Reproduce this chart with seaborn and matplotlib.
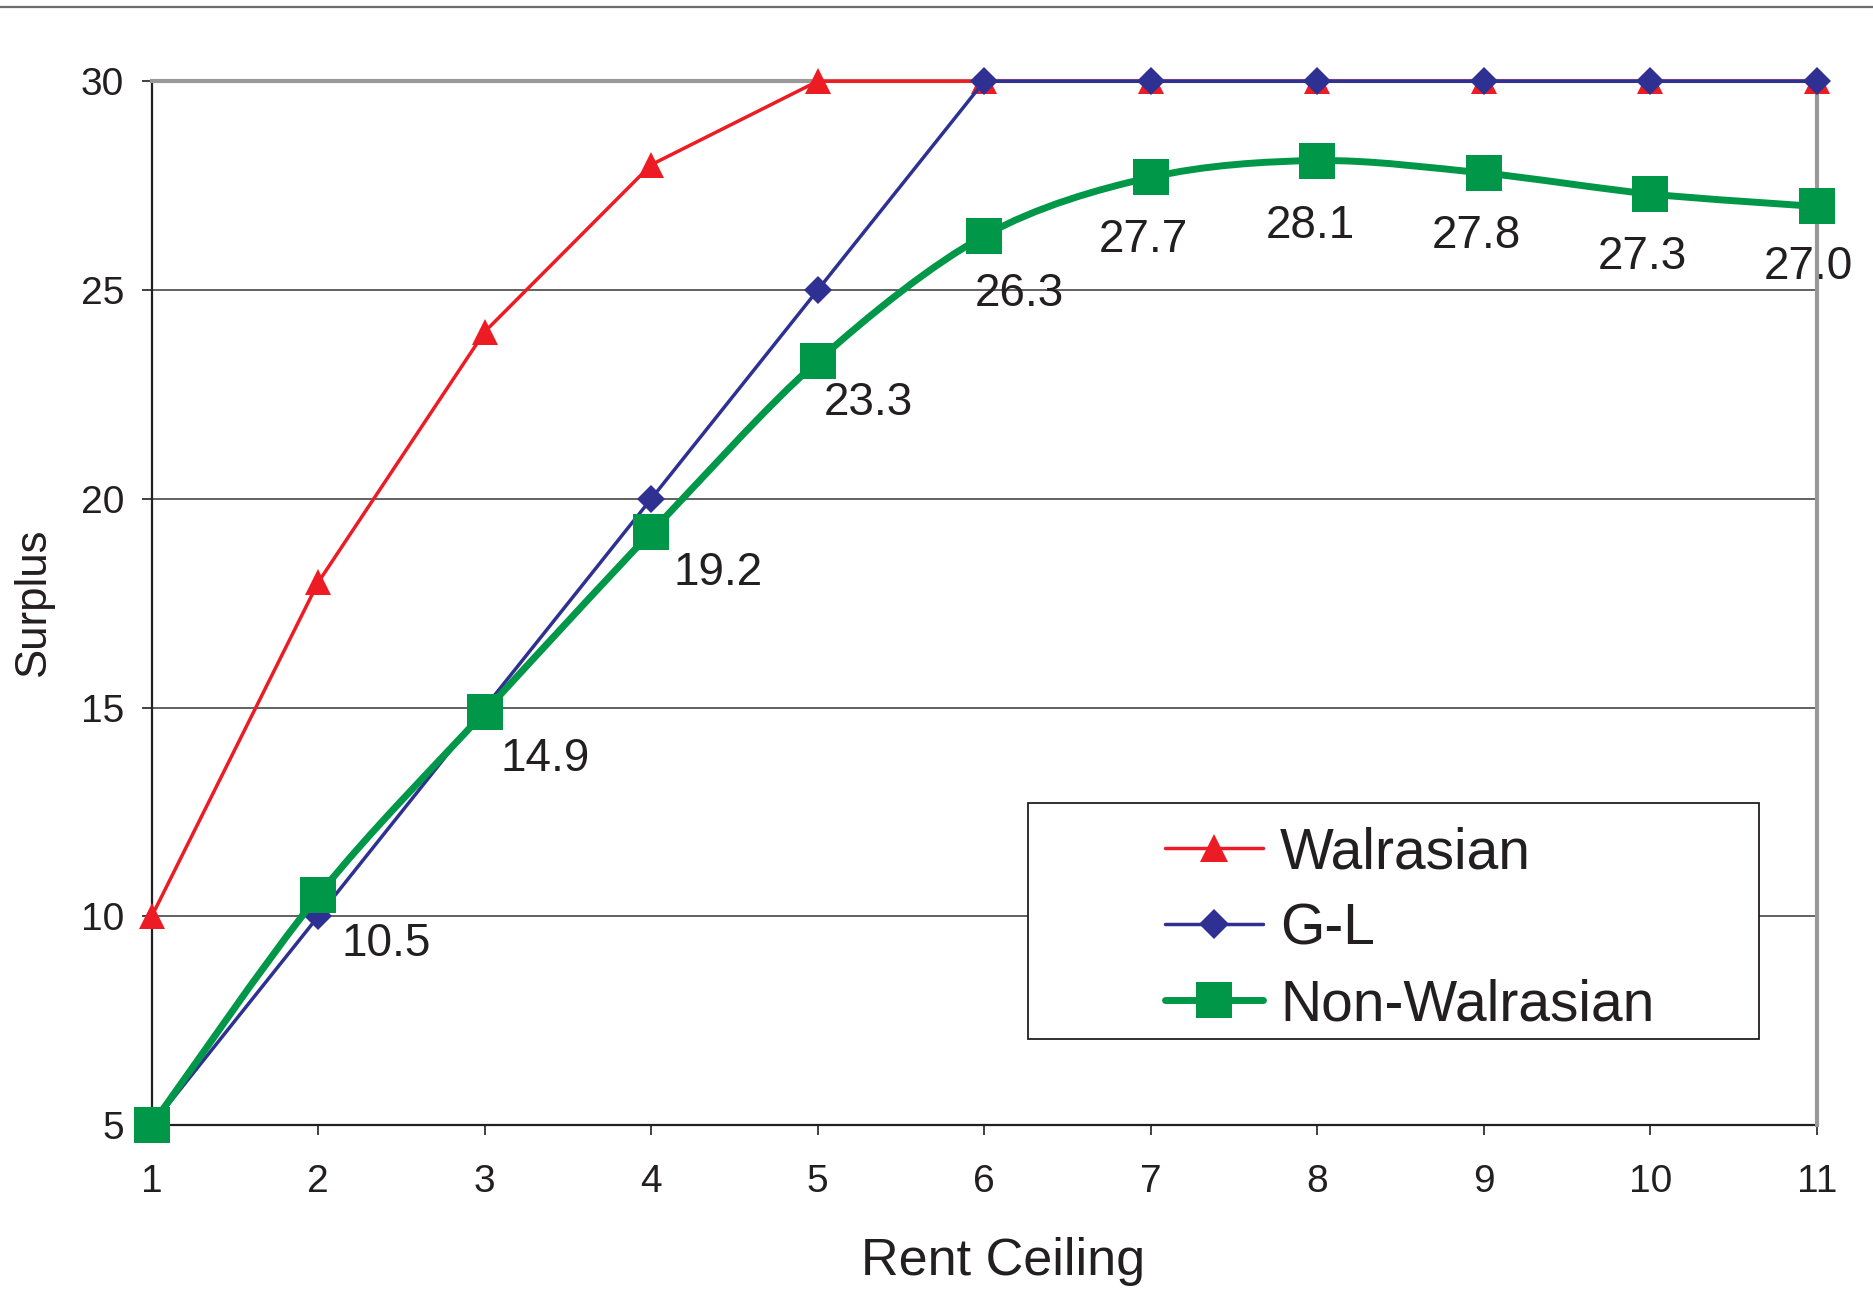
import numpy as np
import pandas as pd
import matplotlib
matplotlib.use("Agg")
import matplotlib.pyplot as plt
from matplotlib.path import Path
from matplotlib.patches import PathPatch, Rectangle
from matplotlib.lines import Line2D
import seaborn as sns

# Surplus under different rent ceilings
rent_ceiling = [1, 2, 3, 4, 5, 6, 7, 8, 9, 10, 11]
walrasian = [10, 18, 24, 28, 30, 30, 30, 30, 30, 30, 30]
gl = [5, 10, 15, 20, 25, 30, 30, 30, 30, 30, 30]
non_walrasian = [5.0, 10.5, 14.9, 19.2, 23.3, 26.3, 27.7, 28.1, 27.8, 27.3, 27.0]
y_ticks = [5, 10, 15, 20, 25, 30]
series_names = ["Walrasian", "G-L", "Non-Walrasian"]

RED = "#ED1C24"
BLUE = "#2E3192"
GREEN = "#009848"
INK = "#231f20"

sns.set_style("white")
plt.rcParams["font.family"] = ["Liberation Sans", "DejaVu Sans"]

fig = plt.figure(figsize=(18.73, 12.89), dpi=100)
ax = fig.add_axes([0.081, 0.1271, 0.889, 0.8099])

# thin rule across the top of the page
fig.add_artist(Line2D([0, 1], [1 - 7 / 1289] * 2, color="#6d6d6d", lw=1.6,
                      transform=fig.transFigure))

# horizontal gridlines
for yv in y_ticks[1:-1]:
    ax.axhline(yv, color="#555555", lw=1.3, zorder=1)

sns.lineplot(x=rent_ceiling, y=walrasian, ax=ax, color=RED, lw=2.5,
             marker="^", markersize=19, markeredgewidth=0, zorder=3, clip_on=False)
sns.lineplot(x=rent_ceiling, y=gl, ax=ax, color=BLUE, lw=2.5,
             marker="D", markersize=14, markeredgewidth=0, zorder=4, clip_on=False)
sns.lineplot(x=rent_ceiling, y=non_walrasian, ax=ax, color=GREEN, lw=0,
             marker="s", markersize=26, markeredgewidth=0, zorder=6, clip_on=False)

# smoothed connecting curve (cubic Bezier through the points)
pts = np.column_stack([rent_ceiling, non_walrasian]).astype(float)
t = 0.16
verts = [tuple(pts[0])]
codes = [Path.MOVETO]
n = len(pts)
for i in range(n - 1):
    p0 = pts[i - 1] if i > 0 else pts[i]
    p1 = pts[i]
    p2 = pts[i + 1]
    p3 = pts[i + 2] if i + 2 < n else pts[i + 1]
    c1 = p1 + (p2 - p0) * t
    c2 = p2 - (p3 - p1) * t
    verts += [tuple(c1), tuple(c2), tuple(p2)]
    codes += [Path.CURVE4] * 3
ax.add_patch(PathPatch(Path(verts, codes), facecolor="none", edgecolor=GREEN,
                       lw=5.0, zorder=5, clip_on=False, capstyle="round",
                       joinstyle="round"))

# value labels for the non-Walrasian series
label_offsets = [None, (68, 27), (60, 25), (67, 19), (51, 20), (35, 36),
                 (-7, 41), (-7, 43), (-7, 41), (-8, 41), (-8, 39)]
for xv, yv, off in zip(rent_ceiling, non_walrasian, label_offsets):
    if off is None:
        continue
    ax.annotate(f"{yv:.1f}", xy=(xv, yv), xytext=(off[0], -off[1]),
                textcoords="offset pixels", ha="center", va="top",
                fontsize=33, color=INK, zorder=2)

ax.set_xlim(1, 11)
ax.set_ylim(5, 30)
ax.set_xticks(rent_ceiling)
ax.set_yticks(y_ticks)
ax.tick_params(axis="both", which="both", direction="out", length=7, width=1.2,
               colors=INK, labelsize=28, left=True, bottom=True)
ax.tick_params(axis="x", pad=21)
ax.tick_params(axis="y", pad=13)

for side in ["left", "bottom"]:
    ax.spines[side].set_color(INK)
    ax.spines[side].set_linewidth(1.6)
for side in ["top", "right"]:
    ax.spines[side].set_color("#999999")
    ax.spines[side].set_linewidth(3)
ax.spines["bottom"].set_zorder(2)

ax.set_xlabel("Rent Ceiling", fontsize=37.5, color=INK)
ax.xaxis.set_label_coords(0.511, -0.107)
ax.set_ylabel("Surplus", fontsize=31.5, color=INK)
ax.yaxis.set_label_coords(-0.0585, 0.5)

# legend: framed box with the entries indented inside it
ax.add_patch(Rectangle((0.5265, 0.0824), 0.439, 0.2265, transform=ax.transAxes,
                       facecolor="white", edgecolor=INK, lw=1.3, zorder=7))
handles = [
    Line2D([], [], color=RED, lw=2.5, marker="^", markersize=20, markeredgewidth=0),
    Line2D([], [], color=BLUE, lw=2.5, marker="D", markersize=15, markeredgewidth=0),
    Line2D([], [], color=GREEN, lw=5.0, marker="s", markersize=26, markeredgewidth=0),
]
leg = ax.legend(handles, series_names, loc="center left",
                bbox_to_anchor=(0.6083, 0.1877), fontsize=41, frameon=False,
                handlelength=1.72, handletextpad=0.31, borderpad=0,
                labelspacing=0.39, borderaxespad=0)
leg.set_zorder(8)
for txt in leg.get_texts():
    txt.set_color(INK)

fig.savefig("out.png", dpi=100, facecolor="white")
